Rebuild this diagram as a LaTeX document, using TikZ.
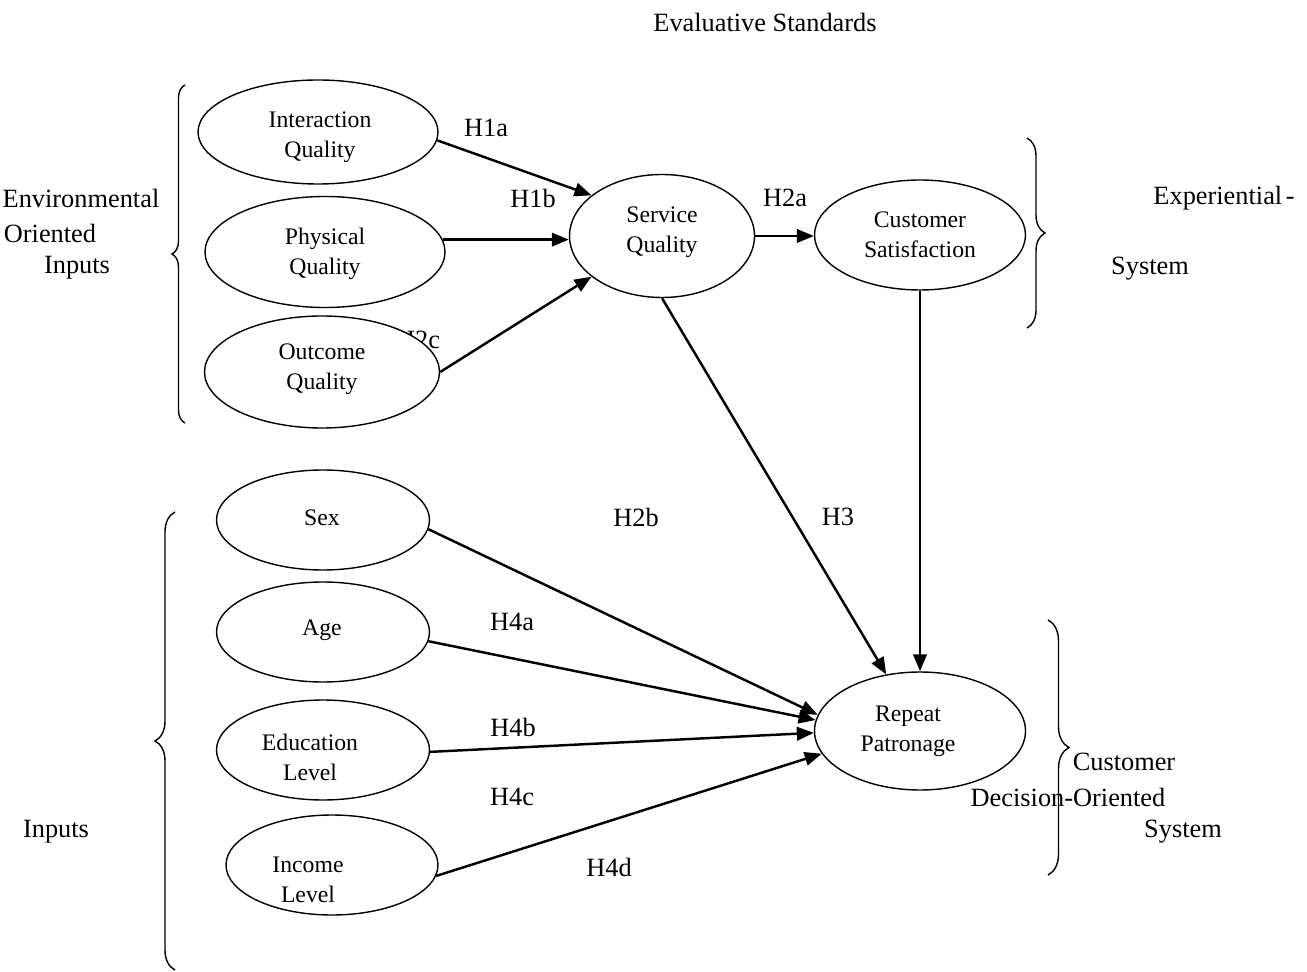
\documentclass[tikz,border=0pt]{standalone}
\usepackage{fontspec}
\setmainfont{Liberation Serif}
\usetikzlibrary{shapes.geometric,arrows.meta,decorations.pathreplacing}

\tikzset{
  ell/.style={ellipse, draw, fill=white, line width=0.8pt, inner sep=0pt},
  intxt/.style={align=center, inner sep=0pt, font=\fontsize{13.5}{17}\selectfont},
  outtxt/.style={inner sep=0pt, font=\fontsize{15}{20}\selectfont},
  arr/.style={-{Triangle[length=0.34cm,width=0.27cm]}, line width=1.4pt},
  brc/.style={decorate, decoration={brace, amplitude=#1}, line width=0.8pt}
}

\begin{document}
\begin{tikzpicture}[x=0.02cm, y=-0.02cm]
			\useasboundingbox (0,0) rectangle (1307,972);
			% Label hidden behind the outcome ellipse
			\node[outtxt] (h2c) at (418,340) {H2c};
			% Nodes
			\foreach \name/\x/\y/\w/\h in {inter/318/132/240/104, phys/325/252/240/111, outc/322/372/235/112,
				serv/662/236/185/123, cs/920/235/211/110, sex/323/520/213/100, age/323/632/213/100,
				edu/323/750/213/100, inc/332/865/212/100, rep/920/731/211/118} {
				\node[ell, minimum width={\w*0.02cm}, minimum height={\h*0.02cm}] (\name) at (\x,\y) {};
			}
			\foreach \name/\x/\y/\t in {inter/320/137/{Interaction\\Quality}, phys/325/254/{Physical\\Quality},
				outc/322/369/{Outcome\\Quality}, serv/662/232/{Service\\Quality}, cs/920/235/{Customer\\Satisfaction},
				sex/322/518/{Sex}, age/322/630/{Age}, edu/310/757/{Education\\Level}, inc/308/880/{Income\\Level},
				rep/908/731/{Repeat\\Patronage}} {
				\node[intxt] (t\name) at (\x,\y) {\t};
			}
			% Labels
			\node[outtxt] (evstd) at (765,22) {Evaluative Standards};
			\foreach \name/\x/\y/\t in {h1a/486/128/H1a, h1b/533/198/H1b, h2a/785/198/H2a, h2b/636/517/H2b,
				h3/838/517/H3, h4a/512/622/H4a, h4b/513/727/H4b, h4c/512/797/H4c, h4d/609/867/H4d} {
				\node[outtxt] (\name) at (\x,\y) {\t};
			}
			\node[outtxt] (envA) at (81,198) {Environmental};
			\node[outtxt] (envB) at (50,233) {Oriented};
			\node[outtxt] (envC) at (77,268) {Inputs};
			\node[outtxt] (expA) at (1224,198) {Experiential\hspace{2pt}-};
			\node[outtxt] (expB) at (1150,269) {System};
			\node[outtxt] (inp) at (56,832) {Inputs};
			\node[outtxt] (decA) at (1124,762) {Customer};
			\node[outtxt] (decB) at (1068,797) {Decision-Oriented};
			\node[outtxt] (decC) at (1183,832) {System};
			% Braces
			\draw[brc=0.26cm] (185,423) -- (185,85);
			\draw[brc=0.36cm] (1027,138) -- (1027,328);
			\draw[brc=0.4cm] (175,970) -- (175,512);
			\draw[brc=0.42cm] (1048,620) -- (1048,875);
			% Edges
			\draw[arr] (inter.-4) -- (serv.150);
			\draw[arr] (phys.6) -- (phys.6 -| serv.west);
			\draw[arr] (outc.east) -- (serv.210);
			\draw[arr] (serv.east) -- (serv.east -| cs.west);
			\draw[arr] (serv.south) -- (rep);
			\draw[arr] (cs.south) -- (rep.north);
			\draw[arr] (sex.-5) -- (rep.171);
			\draw[arr] (age.-5) -- (rep.174);
			\draw[arr] (edu.-1) -- (rep.181);
			\draw[arr] (inc.-6) -- (rep.193);
		\end{tikzpicture}
\end{document}
